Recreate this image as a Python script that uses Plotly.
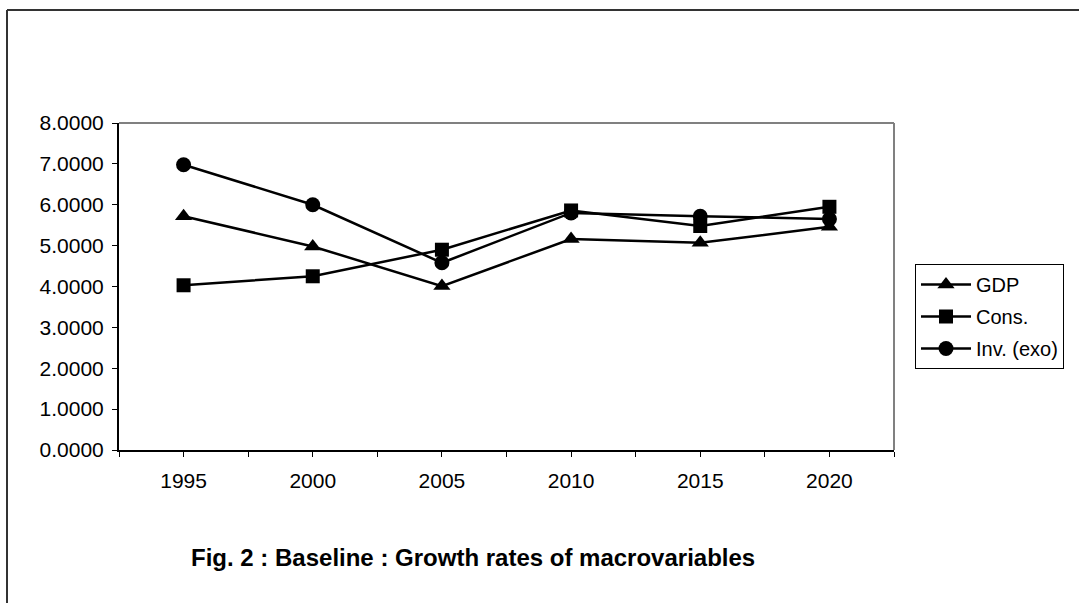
import plotly.graph_objects as go

# Baseline growth rates by year
years = ["1995", "2000", "2005", "2010", "2015", "2020"]
gdp = [5.72, 4.98, 4.01, 5.16, 5.07, 5.46]
cons = [4.03, 4.25, 4.90, 5.86, 5.48, 5.95]
inv = [6.98, 6.00, 4.58, 5.80, 5.72, 5.65]
y_ticks = [0, 1, 2, 3, 4, 5, 6, 7, 8]

W, H = 1079, 603
L, R, T, B = 119, 185, 123, 153
FONT = "Liberation Sans, Arial, sans-serif"

xs = list(range(len(years)))

series = [
    ("GDP", gdp, "triangle-up", 15),
    ("Cons.", cons, "square", 14),
    ("Inv. (exo)", inv, "circle", 15),
]

fig = go.Figure()
for name, vals, sym, size in series:
    fig.add_trace(go.Scatter(
        x=xs, y=vals, name=name, mode="lines+markers", legendgroup=name,
        line=dict(color="black", width=2.5),
        marker=dict(symbol=sym, size=size, color="black"),
    ))

# ticks at category centres and boundaries, labels only at centres
tickvals, ticktext = [], []
for i in range(len(years) * 2 + 1):
    v = -0.5 + i * 0.5
    tickvals.append(v)
    ticktext.append(years[int(v)] if i % 2 == 1 else "")


def px_x(p):
    return (p - L) / (W - L - R)


def px_y(p):
    return (H - B - p) / (H - T - B)


shapes = [
    # plot area frame (grey top/right)
    dict(type="line", xref="paper", yref="paper", x0=0, x1=1, y0=1, y1=1,
         line=dict(color="#808080", width=2)),
    dict(type="line", xref="paper", yref="paper", x0=1, x1=1, y0=0, y1=1,
         line=dict(color="#808080", width=2)),
    # outer chart border
    dict(type="line", xref="paper", yref="paper",
         x0=px_x(7), x1=px_x(W + 5), y0=px_y(10), y1=px_y(10),
         line=dict(color="#333333", width=2)),
    dict(type="line", xref="paper", yref="paper",
         x0=px_x(7), x1=px_x(7), y0=px_y(10), y1=px_y(H + 5),
         line=dict(color="#333333", width=2)),
]

fig.update_layout(
    width=W, height=H,
    margin=dict(l=L, r=R, t=T, b=B),
    paper_bgcolor="white", plot_bgcolor="white",
    font=dict(family=FONT, size=21, color="black"),
    showlegend=True,
    legend=dict(
        x=px_x(915), y=px_y(264), xanchor="left", yanchor="top",
        bordercolor="black", borderwidth=1, bgcolor="white",
        font=dict(family=FONT, size=20, color="black"),
        itemwidth=50, tracegroupgap=3,
    ),
    xaxis=dict(
        range=[-0.5, len(years) - 0.5],
        tickmode="array", tickvals=tickvals, ticktext=ticktext,
        ticks="outside", ticklen=5, tickcolor="black", tickwidth=1,
        ticklabelstandoff=6,
        showline=True, linecolor="black", linewidth=2,
        showgrid=False, zeroline=False, fixedrange=True,
        tickfont=dict(family=FONT, size=21),
    ),
    yaxis=dict(
        range=[0, 8],
        tickmode="array", tickvals=y_ticks,
        ticktext=[f"{v:.4f}" for v in y_ticks],
        ticks="outside", ticklen=5, tickcolor="black", tickwidth=1,
        ticklabelstandoff=4,
        showline=True, linecolor="black", linewidth=2,
        showgrid=False, zeroline=False, fixedrange=True,
        tickfont=dict(family=FONT, size=21),
    ),
    shapes=shapes,
    annotations=[dict(
        text="<b>Fig. 2 : Baseline : Growth rates of macrovariables</b>",
        xref="paper", yref="paper", x=px_x(473), y=px_y(557),
        xanchor="center", yanchor="middle", showarrow=False,
        font=dict(family=FONT, size=24, color="black"),
    )],
)

fig.write_html("out.html")
